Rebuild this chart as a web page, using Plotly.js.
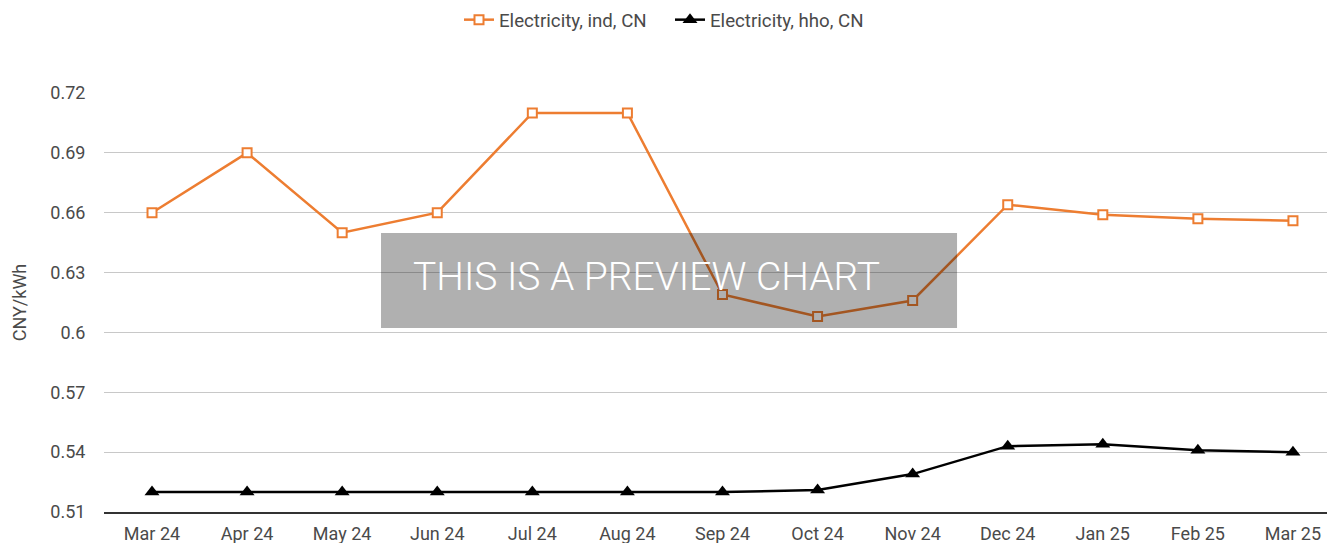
<!DOCTYPE html>
<html>
<head>
<meta charset="utf-8">
<script src="https://cdn.plot.ly/plotly-3.0.1.min.js"></script>
<style>
html,body{margin:0;padding:0;background:#fff;}
#chart{width:1327px;height:543px;}
</style>
</head>
<body>
<div id="chart"></div>
<script>
const categories = ["Mar 24","Apr 24","May 24","Jun 24","Jul 24","Aug 24","Sep 24","Oct 24","Nov 24","Dec 24","Jan 25","Feb 25","Mar 25"];
const indValues = [0.660,0.690,0.650,0.660,0.710,0.710,0.619,0.608,0.616,0.664,0.659,0.657,0.656];
const hhoValues = [0.520,0.520,0.520,0.520,0.520,0.520,0.520,0.521,0.529,0.543,0.544,0.541,0.540];
const yTickVals = [0.51,0.54,0.57,0.60,0.63,0.66,0.69,0.72];
const yTickText = ["0.51","0.54","0.57","0.6","0.63","0.66","0.69","0.72"];
const seriesNames = ["Electricity, ind, CN","Electricity, hho, CN"];
const yTitle = "CNY/kWh";
const watermark = "THIS IS A PREVIEW CHART";

const font = "Roboto, 'Noto Sans', sans-serif";
const textColor = "#4a4a4a";

const traces = [
  {
    x: categories, y: indValues, name: seriesNames[0], type: "scatter", mode: "lines+markers",
    line: {color: "#ED7D31", width: 2.5},
    marker: {symbol: "square", size: 9, color: "#ffffff", line: {color: "#ED7D31", width: 2}},
    legend: "legend"
  },
  {
    x: categories, y: hhoValues, name: seriesNames[1], type: "scatter", mode: "lines+markers",
    line: {color: "#000000", width: 2.5},
    marker: {symbol: "triangle-up", size: 13, color: "#000000"},
    legend: "legend2"
  }
];

const legendBase = {
  orientation: "h", xref: "container", yref: "container",
  xanchor: "left", yanchor: "middle", y: 1 - 20 / 543,
  font: {family: font, size: 18.7, color: textColor},
  bgcolor: "rgba(0,0,0,0)"
};

const layout = {
  width: 1327, height: 543,
  margin: {l: 104, r: 0, t: 93, b: 31, pad: 0},
  paper_bgcolor: "#ffffff", plot_bgcolor: "#ffffff",
  font: {family: font, color: textColor, size: 18},
  showlegend: true,
  legend: Object.assign({}, legendBase, {x: 459 / 1327}),
  legend2: Object.assign({}, legendBase, {x: 670 / 1327}),
  xaxis: {
    type: "category", range: [-0.505, 12.358],
    showgrid: false, zeroline: false,
    showline: true, linecolor: "#333333", linewidth: 1.5,
    ticks: "outside", ticklen: 5, tickcolor: "rgba(0,0,0,0)",
    tickfont: {family: font, size: 18, color: textColor},
    fixedrange: true
  },
  yaxis: {
    range: [0.51, 0.72],
    tickvals: yTickVals, ticktext: yTickText,
    showgrid: true, gridcolor: "#c8c8c8", gridwidth: 1,
    zeroline: false, showline: false,
    ticks: "outside", ticklen: 14, tickcolor: "rgba(0,0,0,0)",
    tickfont: {family: font, size: 18, color: textColor},
    title: {text: yTitle, font: {family: font, size: 18, color: textColor}, standoff: 18},
    fixedrange: true
  },
  shapes: [{
    type: "rect", xref: "paper", yref: "paper",
    x0: 0.2265, x1: 0.6975, y0: 0.4391, y1: 0.6659,
    fillcolor: "rgba(0,0,0,0.31)", line: {width: 0}, layer: "above"
  }],
  annotations: [{
    xref: "paper", yref: "paper", x: 0.4436, y: 0.561,
    xanchor: "center", yanchor: "middle", showarrow: false,
    text: watermark,
    font: {family: font, size: 39, color: "#ffffff", weight: 300}
  }]
};

Plotly.newPlot("chart", traces, layout, {displayModeBar: false, staticPlot: true});
</script>
</body>
</html>
